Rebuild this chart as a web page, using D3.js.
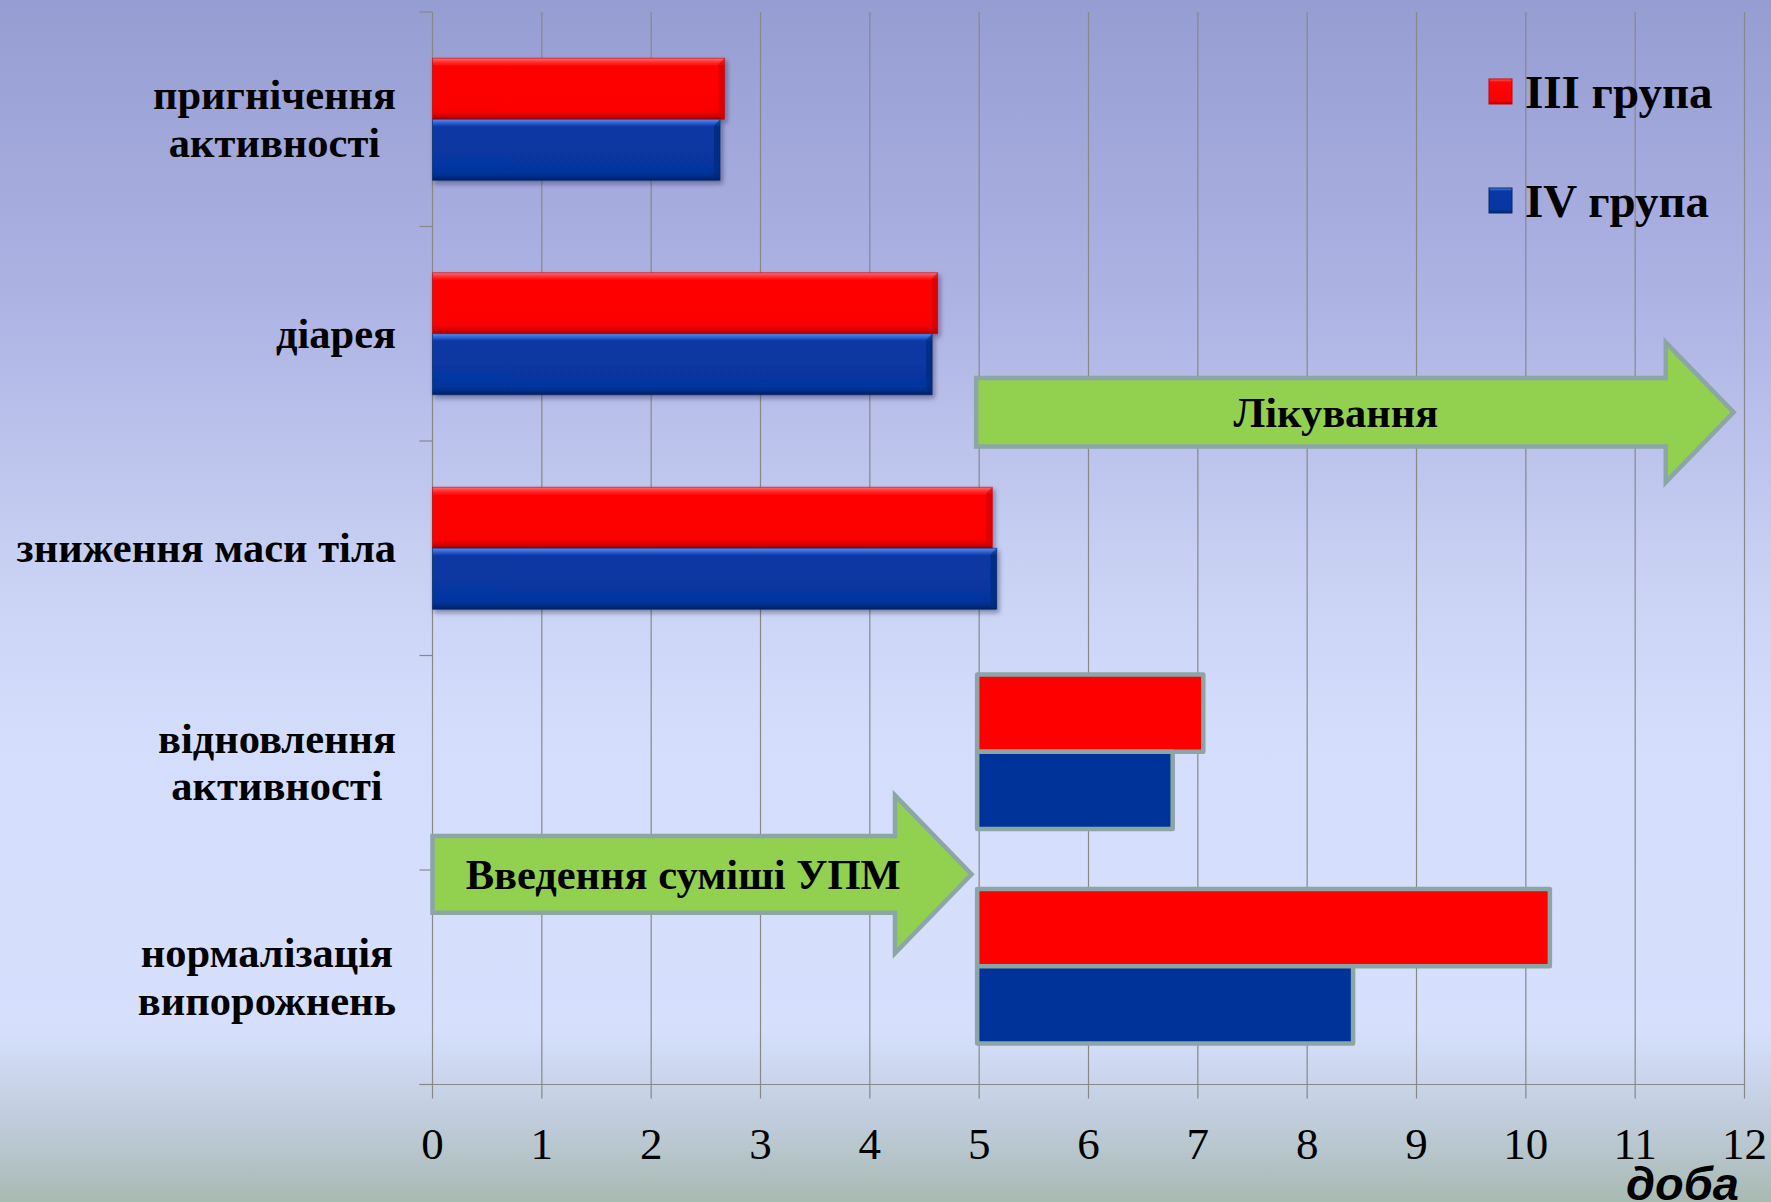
<!DOCTYPE html>
<html>
<head>
<meta charset="utf-8">
<script src="https://cdn.jsdelivr.net/npm/d3@7"></script>
<style>
  html, body { margin: 0; padding: 0; background: #fff; }
  svg { display: block; }
</style>
</head>
<body>
<svg id="chart" width="1771" height="1202"></svg>
<script>
// Symptom durations (days) for two groups of animals
const categories = [
  ["пригнічення", "активності"],
  ["діарея"],
  ["зниження маси тіла"],
  ["відновлення", "активності"],
  ["нормалізація", "випорожнень"]
];
const seriesNames = ["III група", "IV група"];
const groupIII = [2.67, 4.62, 5.12, 7.05, 10.22];
const groupIV  = [2.63, 4.57, 5.16, 6.77, 8.42];
// recovery indicators are counted from the start of treatment (day 5)
const barStart = [0, 0, 0, 5, 5];
const xTicks = [0, 1, 2, 3, 4, 5, 6, 7, 8, 9, 10, 11, 12];
const xUnit = "доба";

// Phase arrows: label, from day, head start day, tip day, row position (in rows from top)
const phaseLabels = ["Введення суміші УПМ", "Лікування"];
const phaseFrom   = [0, 5];
const phaseHead   = [4.23, 11.28];
const phaseTip    = [4.93, 11.9];
const phaseRow    = [4.02, 1.866];

const W = 1771, H = 1202;
const svg = d3.select("#chart");
const defs = svg.append("defs");

// background
const bg = defs.append("linearGradient").attr("id", "bg").attr("x1", 0).attr("y1", 0).attr("x2", 0).attr("y2", 1);
[[0, "#969dd2"], [0.25, "#adb3e3"], [0.5, "#ccd4f5"], [0.62, "#d4defc"], [0.855, "#d6e0fd"],
 [0.93, "#c1cddd"], [1, "#a8bab2"]].forEach(([o, c]) =>
  bg.append("stop").attr("offset", o).attr("stop-color", c));
svg.append("rect").attr("width", W).attr("height", H).attr("fill", "url(#bg)");

// bevelled bar gradients
function barGrad(id, stops) {
  const g = defs.append("linearGradient").attr("id", id).attr("x1", 0).attr("y1", 0).attr("x2", 0).attr("y2", 1);
  stops.forEach(([o, c]) => g.append("stop").attr("offset", o).attr("stop-color", c));
}
barGrad("gRed", [[0, "#ff7070"], [0.05, "#ff3a3a"], [0.12, "#ff0606"], [0.86, "#fb0000"], [0.94, "#d40000"], [1, "#a80000"]]);
barGrad("gBlue", [[0, "#5a8ef0"], [0.05, "#3568d8"], [0.12, "#0838a4"], [0.86, "#0636a0"], [0.94, "#052c86"], [1, "#03215e"]]);
const shadow = defs.append("filter").attr("id", "shadow").attr("x", -0.1).attr("y", -0.2).attr("width", 1.2).attr("height", 1.5);
shadow.append("feDropShadow").attr("dx", 2).attr("dy", 3).attr("stdDeviation", 2.5)
  .attr("flood-color", "#1a1a40").attr("flood-opacity", 0.45);

const x = d3.scaleLinear().domain([0, 12]).range([432.5, 1744.5]);
const y = d3.scaleBand().domain(d3.range(categories.length)).range([12, 1084.5]);
const bw = y.bandwidth();
const inner3d = d3.scaleBand().domain([0, 1]).range([0, bw]).paddingOuter(0.758);
const innerFlat = d3.scaleBand().domain([0, 1]).range([0, bw]).paddingOuter(0.3875);

const gridColor = "#888";
const plot = svg.append("g");

// vertical gridlines
plot.selectAll("line.grid").data(xTicks).join("line")
  .attr("x1", d => x(d)).attr("x2", d => x(d))
  .attr("y1", y.range()[0]).attr("y2", y.range()[1] + 14)
  .attr("stroke", gridColor).attr("stroke-width", 1.2);
// category axis ticks
plot.selectAll("line.ytick").data(d3.range(categories.length + 1)).join("line")
  .attr("x1", x(0) - 13).attr("x2", x(0))
  .attr("y1", d => 12 + d * bw).attr("y2", d => 12 + d * bw)
  .attr("stroke", gridColor).attr("stroke-width", 1.2);
// value axis line
plot.append("line").attr("x1", x(0) - 13).attr("x2", x(12))
  .attr("y1", y.range()[1]).attr("y2", y.range()[1])
  .attr("stroke", gridColor).attr("stroke-width", 1.2);

// tick labels
svg.append("g").selectAll("text").data(xTicks).join("text")
  .attr("x", d => x(d)).attr("y", 1159)
  .attr("text-anchor", "middle")
  .attr("font-family", "'Liberation Serif', 'Times New Roman', serif")
  .attr("font-size", 45)
  .attr("fill", "#000")
  .text(d => d);

svg.append("text").attr("x", 1626).attr("y", 1200)
  .attr("font-family", "'Liberation Sans', Arial, sans-serif")
  .attr("font-size", 47).attr("font-weight", "bold").attr("font-style", "italic")
  .text(xUnit);

// rows data
const rows = categories.map((c, i) => ({
  i, start: barStart[i], vals: [groupIII[i], groupIV[i]]
}));

const fills3d = ["url(#gRed)", "url(#gBlue)"];
const edge3d = ["#c80000", "#03286e"];
const fillsFlat = ["#ff0000", "#003399"];

// 3D style bars (from day 0)
const bars3d = svg.append("g").attr("filter", "url(#shadow)");
rows.filter(r => r.start === 0).forEach(r => {
  r.vals.forEach((v, s) => {
    const x0 = x(r.start), x1 = x(v);
    const y0 = y(r.i) + inner3d(s), h = inner3d.bandwidth();
    const g = bars3d.append("g");
    g.append("rect").attr("x", x0).attr("y", y0).attr("width", x1 - x0).attr("height", h)
      .attr("fill", fills3d[s]);
    // bevel on the right end
    const b = 6;
    g.append("path")
      .attr("d", `M${x1 - b},${y0 + b} L${x1},${y0} L${x1},${y0 + h} L${x1 - b},${y0 + h - b} Z`)
      .attr("fill", edge3d[s]).attr("opacity", 0.55);
    g.append("rect").attr("x", x0).attr("y", y0).attr("width", x1 - x0).attr("height", h)
      .attr("fill", "none").attr("stroke", edge3d[s]).attr("stroke-width", 1).attr("stroke-opacity", 0.6);
  });
});

// flat bars (from day 5)
const barsFlat = svg.append("g");
rows.filter(r => r.start > 0).forEach(r => {
  r.vals.forEach((v, s) => {
    const x0 = x(r.start) - 2, x1 = x(v);
    const y0 = y(r.i) + innerFlat(s) - 11, h = innerFlat.bandwidth();
    barsFlat.append("rect").attr("x", x0).attr("y", y0).attr("width", x1 - x0).attr("height", h)
      .attr("fill", fillsFlat[s]).attr("stroke", "#8ca5a5").attr("stroke-width", 4.5)
      .attr("stroke-linejoin", "round");
  });
});

// phase arrows
const arrowBody = [0.179, 0.16];
const arrowHead = [0.368, 0.326];
const arrowText = [0.465, 0.475];
const arrows = svg.append("g");
phaseLabels.forEach((lab, k) => {
  const cy = 12 + phaseRow[k] * bw;
  const bh = arrowBody[k] * bw, hh = arrowHead[k] * bw;
  const xa = x(phaseFrom[k]) - (phaseFrom[k] > 0 ? 3 : 0), xh = x(phaseHead[k]), xt = x(phaseTip[k]);
  arrows.append("path")
    .attr("d", `M${xa},${cy - bh} L${xh},${cy - bh} L${xh},${cy - hh} L${xt},${cy} L${xh},${cy + hh} L${xh},${cy + bh} L${xa},${cy + bh} Z`)
    .attr("fill", "#92d050").attr("stroke", "#8ca5a5").attr("stroke-width", 4.5)
    .attr("stroke-linejoin", "miter");
  arrows.append("text")
    .attr("x", xa + arrowText[k] * (xt - xa)).attr("y", cy + 14.4)
    .attr("text-anchor", "middle")
    .attr("font-family", "'Liberation Serif', 'Times New Roman', serif")
    .attr("font-size", 42.5).attr("font-weight", "bold")
    .text(lab);
});

// category labels: lines centred within a right-aligned block
const labelRight = 396;
const lab = svg.append("g")
  .attr("font-family", "'Liberation Serif', 'Times New Roman', serif")
  .attr("font-size", 42.5).attr("font-weight", "bold").attr("fill", "#000");
categories.forEach((lines, i) => {
  const cy = y(i) + bw / 2;
  const g = lab.append("g");
  const base = lines.length === 1 ? [14] : [-10, 37.5];
  const texts = lines.map((t, j) => g.append("text")
    .attr("x", 0).attr("y", cy + base[j]).attr("text-anchor", "middle").text(t));
  const maxW = d3.max(texts, t => t.node().getComputedTextLength());
  g.attr("transform", `translate(${labelRight - maxW / 2},0)`);
});

// legend
const legend = svg.append("g");
const legY = [79, 188];
seriesNames.forEach((n, s) => {
  legend.append("rect").attr("x", 1489).attr("y", legY[s]).attr("width", 23).attr("height", 25)
    .attr("fill", fills3d[s]).attr("stroke", edge3d[s]).attr("stroke-width", 1);
  legend.append("text").attr("x", 1525).attr("y", legY[s] + 29)
    .attr("font-family", "'Liberation Serif', 'Times New Roman', serif")
    .attr("font-size", 47).attr("font-weight", "bold")
    .text(n);
});
</script>
</body>
</html>
